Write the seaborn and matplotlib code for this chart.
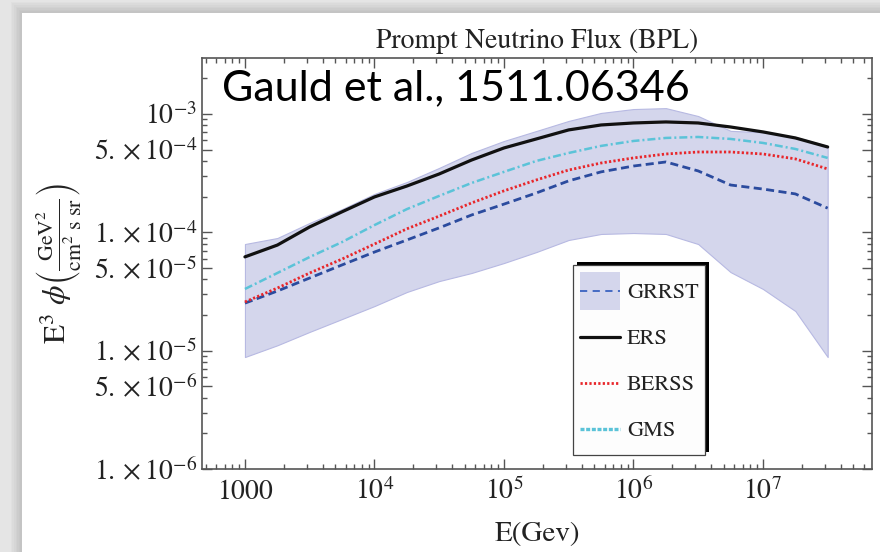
import numpy as np
import matplotlib
matplotlib.use("Agg")
import matplotlib.pyplot as plt
from matplotlib.patches import Patch, Rectangle
from matplotlib.lines import Line2D
from matplotlib.legend_handler import HandlerLine2D
from matplotlib.ticker import FixedLocator, NullFormatter
import seaborn as sns

# Energy grid (GeV) and E^3 * flux for each prompt-neutrino model
energy_gev = [1.0e3, 1.78e3, 3.16e3, 5.62e3, 1.0e4, 1.78e4, 3.16e4, 5.62e4,
              1.0e5, 1.78e5, 3.16e5, 5.62e5, 1.0e6, 1.78e6, 3.16e6, 5.62e6,
              1.0e7, 1.78e7, 3.16e7]

ers = [6.2e-5, 7.8e-5, 1.11e-4, 1.49e-4, 1.99e-4, 2.46e-4, 3.11e-4, 4.08e-4,
       5.16e-4, 6.15e-4, 7.33e-4, 8.07e-4, 8.39e-4, 8.56e-4, 8.39e-4, 7.76e-4,
       7.05e-4, 6.27e-4, 5.26e-4]

gms = [3.32e-5, 4.53e-5, 6.18e-5, 8.27e-5, 1.15e-4, 1.57e-4, 2.03e-4, 2.61e-4,
       3.24e-4, 4.01e-4, 4.68e-4, 5.37e-4, 5.91e-4, 6.27e-4, 6.39e-4, 6.15e-4,
       5.69e-4, 5.06e-4, 4.25e-4]

berss = [2.58e-5, 3.38e-5, 4.53e-5, 5.94e-5, 7.96e-5, 1.07e-4, 1.37e-4, 1.77e-4,
         2.24e-4, 2.77e-4, 3.36e-4, 3.85e-4, 4.25e-4, 4.59e-4, 4.77e-4, 4.77e-4,
         4.59e-4, 4.17e-4, 3.43e-4]

grrst = [2.52e-5, 3.19e-5, 4.11e-5, 5.30e-5, 6.81e-5, 8.61e-5, 1.09e-4, 1.40e-4,
         1.73e-4, 2.15e-4, 2.72e-4, 3.24e-4, 3.63e-4, 3.93e-4, 3.30e-4, 2.51e-4,
         2.32e-4, 2.11e-4, 1.60e-4]

grrst_upper = [7.96e-5, 8.95e-5, 1.20e-4, 1.57e-4, 2.11e-4, 2.66e-4, 3.50e-4, 4.68e-4,
               5.91e-4, 7.18e-4, 8.73e-4, 1.02e-3, 1.10e-3, 1.12e-3, 9.6e-4, 7.2e-4,
               7.0e-4, 6.39e-4, 5.37e-4]

grrst_lower = [8.83e-6, 1.11e-5, 1.44e-5, 1.85e-5, 2.38e-5, 3.13e-5, 3.87e-5, 4.53e-5,
               5.50e-5, 6.81e-5, 8.61e-5, 9.68e-5, 9.86e-5, 9.68e-5, 7.96e-5, 4.61e-5,
               3.32e-5, 2.16e-5, 8.83e-6]

model_labels = ["GRRST", "ERS", "BERSS", "GMS"]

x_major = [1e3, 1e4, 1e5, 1e6, 1e7]
x_major_labels = ["$1000$", "$10^{4}$", "$10^{5}$", "$10^{6}$", "$10^{7}$"]
y_major = [1e-6, 5e-6, 1e-5, 5e-5, 1e-4, 5e-4, 1e-3]
y_major_labels = [r"$1.\times10^{-6}$", r"$5.\times10^{-6}$", r"$1.\times10^{-5}$",
                  r"$5.\times10^{-5}$", r"$1.\times10^{-4}$", r"$5.\times10^{-4}$",
                  r"$10^{-3}$"]

band_color = "#d4d6ec"
band_edge = "#b7b9e2"
c_grrst = "#2b4b9e"
c_ers = "#111111"
c_berss = "#e8262a"
c_gms = "#5bc3d8"
ink = "#222222"
axis_grey = "#555555"


class CenteredLineHandler(HandlerLine2D):
    """Legend line drawn through the vertical middle of the handle box."""

    def create_artists(self, legend, orig_handle, xdescent, ydescent,
                       width, height, fontsize, trans):
        artists = super().create_artists(legend, orig_handle, xdescent, ydescent,
                                         width, height, fontsize, trans)
        for a in artists:
            a.set_ydata(np.asarray(a.get_ydata(), dtype=float) - ydescent / 2)
        return artists


sns.set_theme(style="ticks")
plt.rcParams["font.family"] = ["STIXGeneral", "DejaVu Serif"]
plt.rcParams["mathtext.fontset"] = "stix"

W, H = 880, 552
fig = plt.figure(figsize=(W / 100, H / 100), dpi=100)
fig.patch.set_facecolor("#e5e5e5")

# white card with a soft shadow
card_x, card_top = 22, 13
for i in range(7, 0, -1):
    fig.add_artist(Rectangle(((card_x - 1.6 * i) / W, -0.1), 1.2, 1.1 - (card_top - 1.6 * i) / H,
                             transform=fig.transFigure, facecolor="black",
                             alpha=0.018, edgecolor="none", zorder=-3))
fig.add_artist(Rectangle((card_x / W, -0.1), 1.2, 1.1 - card_top / H,
                         transform=fig.transFigure, facecolor="white",
                         edgecolor="none", zorder=-2))

ax_l, ax_r, ax_t, ax_b = 202, 872, 58, 469
ax = fig.add_axes([ax_l / W, 1 - ax_b / H, (ax_r - ax_l) / W, (ax_b - ax_t) / H])
ax.set_facecolor("white")
ax.set_xscale("log")
ax.set_yscale("log")

# uncertainty band of GRRST
ax.fill_between(energy_gev, grrst_lower, grrst_upper, facecolor=band_color,
                edgecolor=band_edge, linewidth=0.8, zorder=1)

sns.lineplot(x=energy_gev, y=grrst, ax=ax, color=c_grrst, linewidth=2.0,
             linestyle=(0, (2.9, 1.6)), legend=False, zorder=3)
sns.lineplot(x=energy_gev, y=berss, ax=ax, color=c_berss, linewidth=2.0,
             linestyle=(0, (0.8, 0.8)), legend=False, zorder=3)
sns.lineplot(x=energy_gev, y=gms, ax=ax, color=c_gms, linewidth=1.8,
             linestyle=(0, (3.2, 1.2, 0.8, 1.2)), legend=False, zorder=3)
sns.lineplot(x=energy_gev, y=ers, ax=ax, color=c_ers, linewidth=2.3,
             legend=False, zorder=4)

ax.set_xlim(466, 6.95e7)
ax.set_ylim(1e-6, 2.97e-3)

# axis ticks
ax.xaxis.set_major_locator(FixedLocator(x_major))
ax.set_xticklabels(x_major_labels)
x_minor = [m * 10 ** k for k in range(2, 8) for m in range(2, 10)]
ax.xaxis.set_minor_locator(FixedLocator(x_minor))
ax.xaxis.set_minor_formatter(NullFormatter())

ax.yaxis.set_major_locator(FixedLocator(y_major))
ax.set_yticklabels(y_major_labels)
y_minor = [m * 10.0 ** k for k in range(-6, -2) for m in (2, 3, 4, 6, 7, 8, 9)]
ax.yaxis.set_minor_locator(FixedLocator(y_minor))
ax.yaxis.set_minor_formatter(NullFormatter())

ax.tick_params(which="both", direction="in", top=True, right=True,
               color=axis_grey, width=1.0, labelcolor=ink)
ax.tick_params(which="major", length=7)
ax.tick_params(which="minor", length=3.5)
ax.tick_params(axis="x", which="major", labelsize=20, pad=21.5)
ax.tick_params(axis="y", which="major", labelsize=20, pad=3.6)
for tk in ax.xaxis.get_major_ticks():
    tk.label1.set_verticalalignment("baseline")

for sp in ax.spines.values():
    sp.set_color(axis_grey)
    sp.set_linewidth(1.2)

ax.set_title("Prompt Neutrino Flux (BPL)", fontsize=20, color=ink, pad=7.5)
ax.set_xlabel("E(Gev)", fontsize=21, color=ink, labelpad=12.5)
ax.set_ylabel(r"$\mathrm{E}^3\ \phi\left(\frac{\mathrm{GeV}^2}{\mathrm{cm}^2\ \mathrm{s\ sr}}\right)$",
              fontsize=22.5, color=ink, labelpad=7)

fig.text(222 / W, 1 - 100 / H, "Gauld et al., 1511.06346", family=["Lato", "DejaVu Sans"],
         fontsize=31, color="black", va="baseline", ha="left")

# legend
handles = [
    (Patch(facecolor=band_color, edgecolor="none"),
     Line2D([], [], color="#3a62c0", linewidth=1.3, linestyle=(0, (4, 3)))),
    Line2D([], [], color=c_ers, linewidth=2.3),
    Line2D([], [], color=c_berss, linewidth=2.0, linestyle=(0, (0.8, 0.8))),
    Line2D([], [], color=c_gms, linewidth=2.4, linestyle=(0, (1.2, 0.5))),
]
leg = ax.legend(handles, model_labels, loc="upper left",
                bbox_to_anchor=((573 - ax_l) / (ax_r - ax_l), (ax_b - 265) / (ax_b - ax_t)),
                borderaxespad=0, fontsize=16, handlelength=1.8, handleheight=2.26,
                labelspacing=0.36, borderpad=0.3, handletextpad=0.32,
                fancybox=False, framealpha=1, facecolor="#fdfdfd",
                edgecolor="#444444", handler_map={Line2D: CenteredLineHandler()})
leg.get_frame().set_linewidth(0.9)
for t in leg.get_texts():
    t.set_color(ink)

# offset black drop shadow behind the legend box
fig.canvas.draw()
bb = leg.get_frame().get_window_extent(fig.canvas.get_renderer())
shadow = Rectangle(((bb.x0 + 4) / W, (bb.y0 + 3) / H), bb.width / W, bb.height / H,
                   transform=fig.transFigure, facecolor="black", edgecolor="none",
                   zorder=4.9, clip_on=False)
ax.add_artist(shadow)

fig.savefig("out.png", dpi=100, facecolor=fig.get_facecolor())
